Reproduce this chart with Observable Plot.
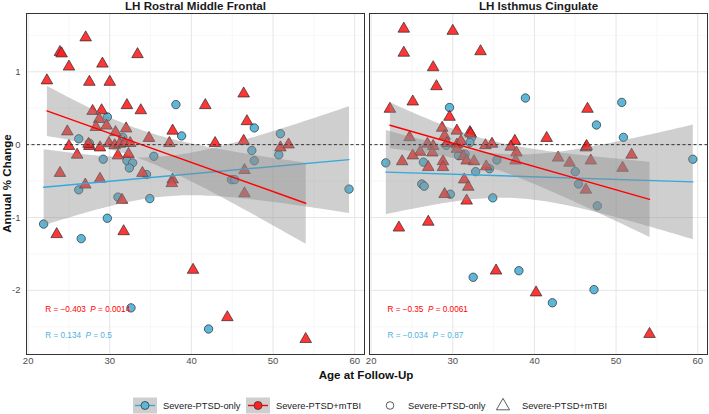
<!DOCTYPE html>
<html><head><meta charset="utf-8">
<script src="https://cdn.jsdelivr.net/npm/d3@7"></script>
<script src="https://cdn.jsdelivr.net/npm/@observablehq/plot@0.6"></script>
<style>
body{margin:0;background:#fff;font-family:"Liberation Sans",Arial,sans-serif;}
#wrap{position:relative;width:709px;height:414px;overflow:hidden;}
#legend{position:absolute;left:0;top:397px;}
</style></head><body><div id="wrap"></div>
<script>
const panels = ["LH Rostral Middle Frontal", "LH Isthmus Cingulate"];
const groups = ["Severe-PTSD-only", "Severe-PTSD+mTBI"];

// LH Rostral Middle Frontal — Severe-PTSD-only (circles)
const rmfPtsdAge = [26.2,27.5,29.7,31.6,29.2,32.1,32.8,32.4,34.5,35.4,38.1,38.8,47.7,47.4,47.7,50.9,50.7,44.9,45.3,26.2,31.0,34.9,21.9,26.5,29.7,32.6,42.1,59.3];
const rmfPtsdChange = [0.08,0.02,0.38,0.10,-0.20,-0.22,-0.25,-0.32,-0.41,-0.16,0.55,0.12,0.23,-0.08,-0.22,0.15,-0.14,-0.48,-0.48,-0.62,-0.72,-0.74,-1.09,-1.29,-1.01,-2.24,-2.53,-0.61];
// LH Rostral Middle Frontal — Severe-PTSD+mTBI (triangles)
const rmfTbiAge = [22.3,23.9,24.1,27.05,25.0,27.5,29.1,30.0,33.4,27.9,29.0,32.1,33.8,41.7,46.4,46.8,37.7,24.8,28.7,28.3,29.6,30.7,32.0,25.0,27.5,27.4,28.8,29.9,30.6,31.2,31.8,32.5,34.8,37.3,42.9,46.4,50.9,51.9,26.0,31.0,32.3,23.9,34.0,28.8,27.0,37.7,37.6,46.5,46.5,31.5,23.5,31.7,40.2,44.4,54.0];
const rmfTbiChange = [0.88,1.27,1.25,1.47,1.07,0.86,1.11,0.86,1.24,0.46,0.47,0.54,0.47,0.54,0.70,0.32,0.19,0.18,0.35,0.24,0.26,0.17,0.22,-0.02,-0.02,0.01,-0.04,0.02,-0.01,0.01,0.02,0.02,0.09,0.02,0.02,0.05,-0.04,0.0,-0.14,-0.15,-0.13,-0.39,-0.39,-0.47,-0.55,-0.48,-0.53,-0.35,-0.67,-0.76,-1.23,-1.19,-1.72,-2.37,-2.67];
// LH Isthmus Cingulate — Severe-PTSD-only (circles)
const icPtsdAge = [21.8,38.9,50.7,29.6,47.6,50.9,32.3,32.1,29.2,26.4,30.7,31.5,35.4,34.5,32.8,45.0,45.4,26.2,26.5,59.4,29.7,34.9,47.7,32.5,38.1,47.3,42.2];
const icPtsdChange = [-0.25,0.64,0.58,0.51,0.27,0.10,0.10,0.03,-0.01,-0.24,-0.15,-0.13,-0.21,-0.33,-0.37,-0.37,-0.54,-0.54,-0.57,-0.20,-0.68,-0.73,-0.84,-1.82,-1.73,-1.99,-2.17];
// LH Isthmus Cingulate — Severe-PTSD+mTBI (triangles)
const icTbiAge = [24.0,30.0,24.0,33.4,27.6,28.0,25.1,22.3,29.6,46.5,28.7,30.5,32.1,32.2,29.0,24.7,37.6,41.5,26.9,27.6,29.3,30.5,31.0,34.0,34.8,37.1,46.3,46.4,26.0,27.5,25.1,30.5,37.8,23.8,28.8,28.8,27.0,31.3,31.7,32.6,34.1,37.7,42.9,44.3,46.9,51.9,50.8,31.4,31.9,46.3,29.0,31.7,23.4,27.0,35.3,40.2,54.1];
const icTbiChange = [1.59,1.56,1.26,1.28,1.06,0.80,0.59,0.49,0.38,0.49,0.23,0.19,0.17,0.15,0.12,0.10,0.05,0.09,0.01,-0.02,0.02,0.0,0.05,-0.01,0.01,-0.03,-0.04,-0.02,-0.10,-0.11,-0.15,-0.06,-0.11,-0.23,-0.23,-0.31,-0.31,-0.16,-0.22,-0.23,-0.30,-0.22,-0.18,-0.25,-0.22,-0.14,-0.32,-0.48,-0.58,-0.62,-0.68,-0.77,-1.14,-1.06,-1.73,-2.03,-2.60];

// correlation annotations
const statPanel = ["LH Rostral Middle Frontal","LH Rostral Middle Frontal","LH Isthmus Cingulate","LH Isthmus Cingulate"];
const statGroup = ["Severe-PTSD+mTBI","Severe-PTSD-only","Severe-PTSD+mTBI","Severe-PTSD-only"];
const statR = ["\u22120.403","0.134","\u22120.35","\u22120.034"];
const statP = ["0.0014","0.5","0.0061","0.87"];
const statX = [22.1,22.1,22.0,22.0];
const statY = [-2.26,-2.62,-2.26,-2.62];

const xTicks = [20,30,40,50,60];
const xMinor = [25,35,45,55];
const yTicks = [-2,-1,0,1];
const yMinor = [-2.5,-1.5,-0.5,0.5,1.5];

const pointColor = {"Severe-PTSD-only": "#5db7d8", "Severe-PTSD+mTBI": "#ff2020"};
const lineColor = {"Severe-PTSD-only": "#36a9dc", "Severe-PTSD+mTBI": "#ff0000"};
const textColor = {"Severe-PTSD-only": "#4fb0dc", "Severe-PTSD+mTBI": "#ff0000"};

const rows = [];
function add(panel, group, ages, changes) { ages.forEach((a, i) => rows.push({panel, group, age: a, change: changes[i]})); }
add(panels[0], groups[0], rmfPtsdAge, rmfPtsdChange);
add(panels[0], groups[1], rmfTbiAge, rmfTbiChange);
add(panels[1], groups[0], icPtsdAge, icPtsdChange);
add(panels[1], groups[1], icTbiAge, icTbiChange);
const circles = rows.filter(d => d.group === groups[0]);
const triangles = rows.filter(d => d.group === groups[1]);

const stats = statPanel.map((p, i) => ({panel: p, group: statGroup[i], x: statX[i], y: statY[i],
  label: `R = ${statR[i]}  P = ${statP[i]}`}));

const chart = Plot.plot({
  width: 709, height: 390,
  marginTop: 13, marginLeft: 25, marginRight: 2, marginBottom: 36,
  style: {fontFamily: "'Liberation Sans', Arial, sans-serif", background: "white"},
  x: {domain: [19.8, 61.2]},
  y: {domain: [-2.88, 1.8]},
  fx: {domain: panels, paddingInner: 0.0146, paddingOuter: 0, label: null},
  marks: [
    Plot.gridX(xMinor, {stroke: "#f2f2f2", strokeOpacity: 1, strokeWidth: 0.6}),
    Plot.gridY(yMinor, {stroke: "#f2f2f2", strokeOpacity: 1, strokeWidth: 0.6}),
    Plot.gridX(xTicks, {stroke: "#e6e6e6", strokeOpacity: 1, strokeWidth: 1}),
    Plot.gridY(yTicks, {stroke: "#e6e6e6", strokeOpacity: 1, strokeWidth: 1}),
    Plot.dot(circles, {x: "age", y: "change", fx: "panel", r: 4.2, fill: pointColor[groups[0]], stroke: "#2a2a2a", strokeWidth: 0.7}),
    Plot.dot(triangles, {x: "age", y: "change", fx: "panel", symbol: "triangle", r: 4.3, fill: pointColor[groups[1]], fillOpacity: 0.9, stroke: "#2a2a2a", strokeWidth: 0.7}),
    Plot.linearRegressionY(circles, {x: "age", y: "change", fx: "panel", stroke: lineColor[groups[0]], strokeWidth: 1.4, fill: "#8c8c8c", fillOpacity: 0.42}),
    Plot.linearRegressionY(triangles, {x: "age", y: "change", fx: "panel", stroke: lineColor[groups[1]], strokeWidth: 1.4, fill: "#8c8c8c", fillOpacity: 0.42}),
    Plot.ruleY([0], {stroke: "#333", strokeWidth: 1, strokeDasharray: "3,2.5"}),
    Plot.frame({stroke: "#333", strokeWidth: 1}),
    Plot.text(stats, {x: "x", y: "y", fx: "panel", text: "label", fill: d => textColor[d.group], textAnchor: "start", fontSize: 8.2}),
    Plot.axisFx({anchor: "top", label: null, tickSize: 0, tickPadding: 4, fontSize: 11.6, fontWeight: "bold", fill: "#1a1a1a"}),
    Plot.axisY({ticks: yTicks, tickFormat: d => String(d), label: null, tickSize: 0, tickPadding: 6, fontSize: 9.5, fill: "#4d4d4d"}),
    Plot.axisX({ticks: xTicks, tickFormat: d => String(d), label: null, tickSize: 0, tickPadding: 3, fontSize: 9.5, fill: "#4d4d4d"})
  ]
});

// italic P in stat labels
d3.select(chart).selectAll("text").each(function() {
  const t = this.textContent;
  const m = /^R = (.+?)  P = (.+)$/.exec(t);
  if (m && this.children.length === 0) {
    const s = d3.select(this);
    s.text(null);
    s.append("tspan").text(`R = ${m[1]}  `);
    s.append("tspan").attr("font-style", "italic").text("P");
    s.append("tspan").text(` = ${m[2]}`);
  }
});
// axis titles
const svg = d3.select(chart);
svg.append("text").attr("x", 366).attr("y", 379).attr("text-anchor", "middle")
  .attr("font-size", 11.6).attr("font-weight", "bold").attr("fill", "#111").text("Age at Follow-Up");
svg.append("text").attr("transform", "translate(11,183.5) rotate(-90)").attr("text-anchor", "middle")
  .attr("font-size", 11.6).attr("font-weight", "bold").attr("fill", "#111").text("Annual % Change");

const wrap = document.getElementById("wrap");
wrap.appendChild(chart);

// legend
const lg = d3.create("svg").attr("id", "legend").attr("width", 709).attr("height", 17)
  .style("font-family", "'Liberation Sans', Arial, sans-serif");
const keys = [
  {kind: "smooth", group: groups[0], x: 133, tx: 163},
  {kind: "smooth", group: groups[1], x: 246, tx: 276},
  {kind: "circle", group: groups[0], x: 390, tx: 408},
  {kind: "triangle", group: groups[1], x: 503, tx: 522}
];
keys.forEach(k => {
  if (k.kind === "smooth") {
    lg.append("rect").attr("x", k.x).attr("y", 0.5).attr("width", 24).attr("height", 16).attr("fill", "#cfcfcf");
    lg.append("line").attr("x1", k.x + 2).attr("x2", k.x + 22).attr("y1", 8.5).attr("y2", 8.5)
      .attr("stroke", lineColor[k.group]).attr("stroke-width", 1.4);
    lg.append("circle").attr("cx", k.x + 12).attr("cy", 8.5).attr("r", 4)
      .attr("fill", pointColor[k.group]).attr("stroke", "#2a2a2a").attr("stroke-width", 0.7);
  } else if (k.kind === "circle") {
    lg.append("circle").attr("cx", k.x).attr("cy", 8.5).attr("r", 3.8).attr("fill", "none").attr("stroke", "#333").attr("stroke-width", 0.8);
  } else {
    lg.append("path").attr("transform", `translate(${k.x},9)`).attr("d", d3.symbol(d3.symbolTriangle, 75)())
      .attr("fill", "none").attr("stroke", "#333").attr("stroke-width", 0.8);
  }
  lg.append("text").attr("x", k.tx).attr("y", 8.5).attr("dy", "0.35em").attr("font-size", 9.3).attr("fill", "#222").text(k.group);
});
wrap.appendChild(lg.node());
</script></body></html>
